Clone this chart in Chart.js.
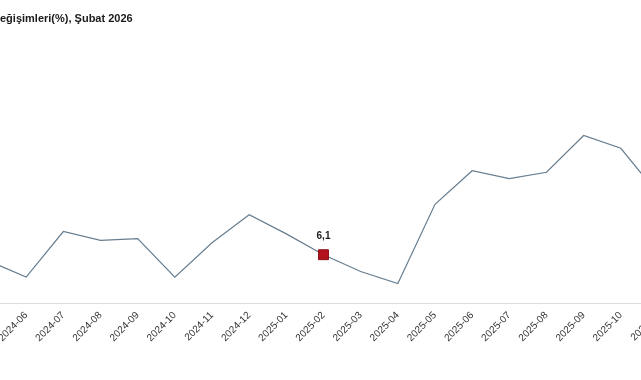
<!DOCTYPE html>
<html><head><meta charset="utf-8">
<script src="https://cdn.jsdelivr.net/npm/chart.js@4"></script>
<style>
html,body{margin:0;padding:0;background:#fff;}
#wrap{position:relative;width:641px;height:380px;overflow:hidden;background:#fff;}
#title{position:absolute;left:0;top:12px;font:bold 11px "Liberation Sans",Arial,sans-serif;color:#1a1a1a;white-space:nowrap;}
#box{position:absolute;left:-71px;top:0;width:760px;height:380px;}
</style></head><body>
<div id="wrap"><div id="box"><canvas id="c" width="760" height="380"></canvas></div><div id="title">eğişimleri(%), Şubat 2026</div></div>
<script>
const categories = ["2024-05","2024-06","2024-07","2024-08","2024-09","2024-10","2024-11","2024-12","2025-01","2025-02","2025-03","2025-04","2025-05","2025-06","2025-07","2025-08","2025-09","2025-10","2025-11"];
const values = [5.3, 3.3, 9.0, 7.9, 8.1, 3.3, 7.6, 11.1, 8.7, 6.1, 4.0, 2.5, 12.4, 16.6, 15.6, 16.4, 21.0, 19.4, 13.7];
const highlightLabel = "2025-02";
const yMin = 0, yMax = 25;

const hi = categories.indexOf(highlightLabel);

const valueLabel = {
  id: 'valueLabel',
  afterDatasetsDraw(chart) {
    const meta = chart.getDatasetMeta(0);
    const pt = meta.data[hi];
    const ctx = chart.ctx;
    ctx.save();
    ctx.font = 'bold 10px "Liberation Sans", Arial, sans-serif';
    ctx.fillStyle = '#222';
    ctx.textAlign = 'center';
    ctx.textBaseline = 'middle';
    ctx.fillText(String(values[hi]).replace('.', ','), pt.x, pt.y - 18);
    ctx.restore();
  }
};

new Chart(document.getElementById('c'), {
  type: 'line',
  data: {
    labels: categories,
    datasets: [{
      data: values,
      borderColor: '#667d8f',
      borderWidth: 1.2,
      tension: 0,
      fill: false,
      pointStyle: 'rect',
      pointRadius: categories.map((c, i) => i === hi ? 7 : 0),
      pointHoverRadius: 0,
      pointBackgroundColor: '#b3121c',
      pointBorderColor: '#8a0d14',
      pointBorderWidth: 1,
      clip: false
    }]
  },
  options: {
    responsive: false,
    animation: false,
    events: [],
    layout: { padding: { left: 60, right: 31, top: 103.5, bottom: 0 } },
    plugins: { legend: { display: false }, tooltip: { enabled: false }, title: { display: false } },
    scales: {
      x: {
        offset: false,
        grid: { display: false, drawTicks: false },
        border: { display: true, color: '#dddddd', width: 1 },
        ticks: {
          autoSkip: false, maxRotation: 45, minRotation: 45, padding: 6,
          color: '#333', font: { family: '"Liberation Sans", Arial, sans-serif', size: 10 }
        },
        afterFit(scale) { scale.height = 76.5; }
      },
      y: {
        display: false,
        min: yMin, max: yMax
      }
    }
  },
  plugins: [valueLabel]
});
</script>
</body></html>
